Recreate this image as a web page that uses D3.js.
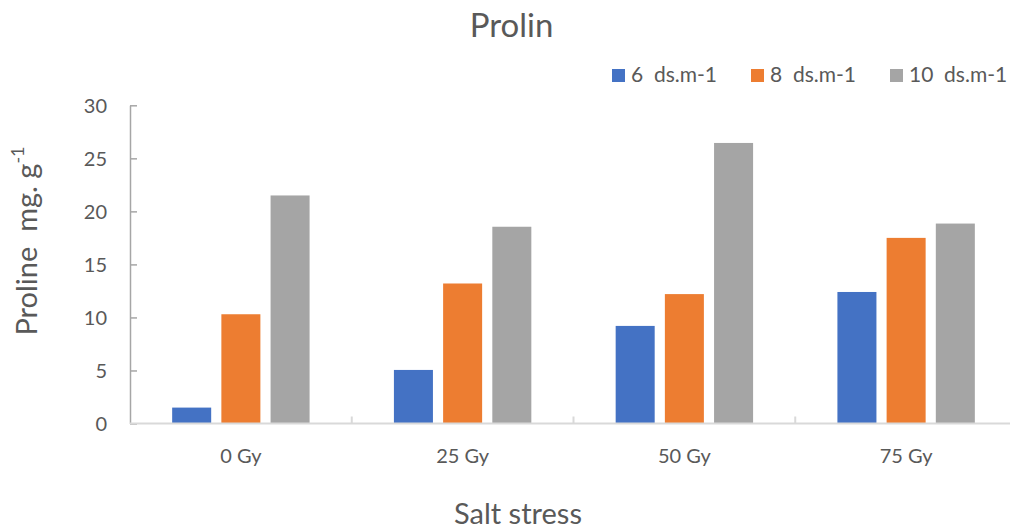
<!DOCTYPE html>
<html>
<head>
<meta charset="utf-8">
<script src="https://cdn.jsdelivr.net/npm/d3@7/dist/d3.min.js"></script>
<style>
  html, body { margin: 0; padding: 0; background: #ffffff; }
  svg { display: block; font-family: Lato, "Open Sans", sans-serif; }
  text { white-space: pre; fill: #595959; }
</style>
</head>
<body>
<svg id="chart" width="1010" height="531"></svg>
<script>
// Salt stress categories (gamma dose groups)
const categories = ["0 Gy", "25 Gy", "50 Gy", "75 Gy"];
// Series: salinity levels
const seriesNames = ["6  ds.m-1", "8  ds.m-1", "10  ds.m-1"];
const seriesColors = ["#4472C4", "#ED7D31", "#A5A5A5"];
// Proline content (mg. g-1) per series, in category order
const values6 = [1.5, 5.05, 9.2, 12.4];
const values8 = [10.3, 13.2, 12.2, 17.5];
const values10 = [21.5, 18.55, 26.45, 18.85];
const yTicks = [0, 5, 10, 15, 20, 25, 30];

const seriesValues = [values6, values8, values10];
const rows = categories.map((c, i) => ({
  category: c,
  values: seriesNames.map((s, j) => ({ series: s, color: seriesColors[j], value: seriesValues[j][i] }))
}));

const svg = d3.select("#chart");
const plot = { left: 130, right: 1017, top: 105.3, bottom: 423.5 };

const x0 = d3.scaleBand().domain(categories).range([plot.left, plot.right]).paddingInner(0).paddingOuter(0);
const x1 = d3.scaleBand().domain(seriesNames).range([0, x0.bandwidth()]).paddingInner(0.207).paddingOuter(0.857);
const y = d3.scaleLinear().domain([0, 30]).range([plot.bottom, plot.top]);

// Bars
const groups = svg.append("g").selectAll("g").data(rows).join("g")
  .attr("transform", d => `translate(${x0(d.category)},0)`);
groups.selectAll("rect").data(d => d.values).join("rect")
  .attr("x", d => x1(d.series))
  .attr("y", d => y(d.value))
  .attr("width", x1.bandwidth())
  .attr("height", d => y(0) - y(d.value))
  .attr("fill", d => d.color);

// Y axis: line with inward ticks, labels placed to the left
const yAxis = svg.append("g").attr("transform", `translate(${plot.left},0)`)
  .call(d3.axisRight(y).tickValues(yTicks).tickSize(7).tickSizeOuter(0).tickFormat(""));
yAxis.select(".domain").attr("stroke", "#a6a6a6").attr("stroke-width", 1.5);
yAxis.selectAll(".tick line").attr("stroke", "#a6a6a6").attr("stroke-width", 1.5);

svg.append("g").selectAll("text").data(yTicks).join("text")
  .attr("x", 107).attr("y", d => y(d)).attr("dy", "0.36em")
  .attr("text-anchor", "end").attr("font-size", 20)
  .text(d => d);

// X axis baseline with category divider ticks
const xAxisG = svg.append("g").attr("transform", `translate(0,${plot.bottom})`);
xAxisG.append("line")
  .attr("x1", plot.left).attr("x2", plot.right)
  .attr("stroke", "#d9d9d9").attr("stroke-width", 2);
xAxisG.selectAll("line.div").data(categories.slice(1)).join("line").attr("class", "div")
  .attr("x1", d => x0(d)).attr("x2", d => x0(d))
  .attr("y1", 0).attr("y2", -7)
  .attr("stroke", "#d9d9d9").attr("stroke-width", 2);

svg.append("g").selectAll("text").data(categories).join("text")
  .attr("x", d => x0(d) + x0.bandwidth() / 2).attr("y", 463)
  .attr("text-anchor", "middle").attr("font-size", 20)
  .text(d => d);

// Title
svg.append("text").attr("x", 511.5).attr("y", 37)
  .attr("text-anchor", "middle").attr("font-size", 33)
  .text("Prolin");

// Axis titles
svg.append("text").attr("x", 518).attr("y", 524)
  .attr("text-anchor", "middle").attr("font-size", 29)
  .text("Salt stress");

const yTitle = svg.append("text")
  .attr("transform", "translate(37,241) rotate(-90)")
  .attr("text-anchor", "middle").attr("font-size", 29);
yTitle.append("tspan").text("Proline  mg. g");
yTitle.append("tspan").attr("font-size", 18).attr("dy", -13).text("-1");

// Legend
const legendX = [612, 751, 890];
const legend = svg.append("g").selectAll("g").data(seriesNames).join("g")
  .attr("transform", (d, i) => `translate(${legendX[i]},0)`);
legend.append("rect").attr("x", 0).attr("y", 69).attr("width", 13).attr("height", 13)
  .attr("fill", (d, i) => seriesColors[i]);
legend.append("text").attr("x", 19).attr("y", 82).attr("font-size", 21)
  .text(d => d);
</script>
</body>
</html>
